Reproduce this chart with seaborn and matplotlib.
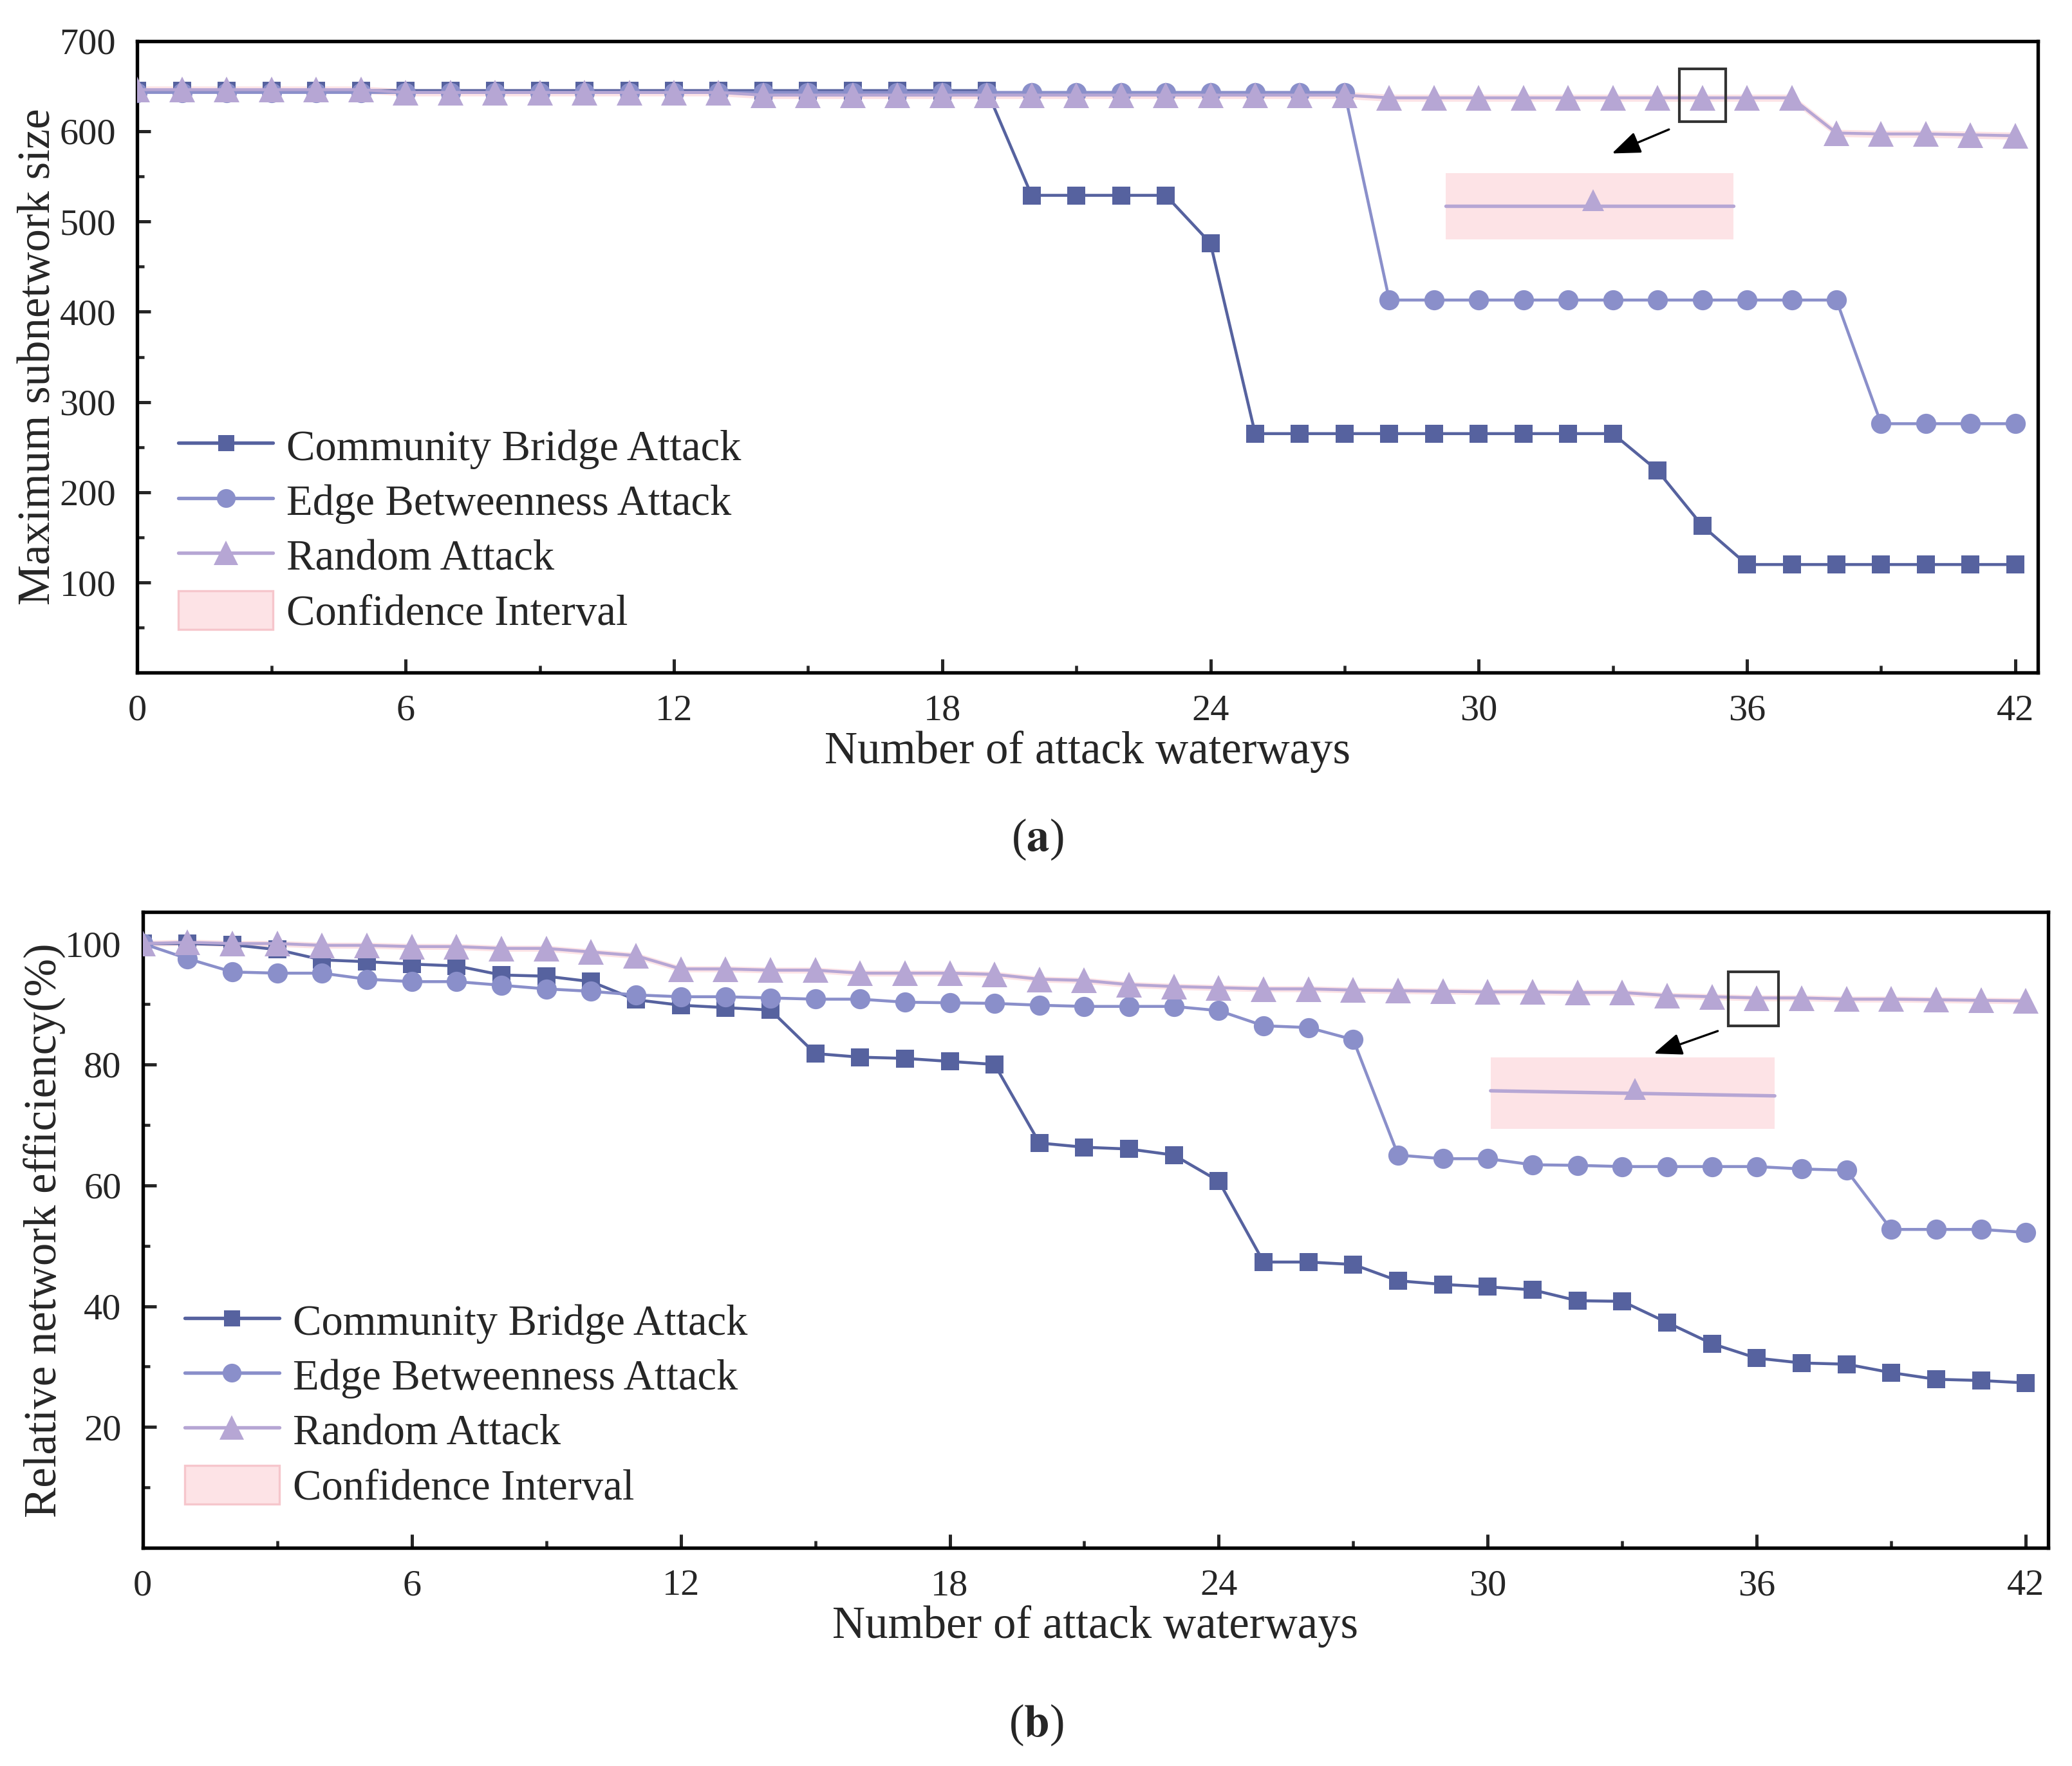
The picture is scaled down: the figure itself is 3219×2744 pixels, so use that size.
import numpy as np
import seaborn as sns
import matplotlib.pyplot as plt
from matplotlib.lines import Line2D
from matplotlib.patches import Patch, Rectangle
from matplotlib.ticker import MultipleLocator

#######   data   #################################

attacks = list(range(0, 43))
series_names = ["Community Bridge Attack", "Edge Betweenness Attack", "Random Attack"]

# (a) maximum subnetwork size
bridge_size = [645] * 20 + [529, 529, 529, 529, 476, 265, 265, 265, 265, 265, 265, 265,
                            265, 265, 224, 163, 120, 120, 120, 120, 120, 120, 120]
betw_size = [643] * 28 + [413] * 11 + [276, 276, 276, 276]
random_size = [646] * 6 + [643] * 8 + [640] * 14 + [637] * 10 + [598, 597, 597, 596, 595]
ci_half_size = 4

# (b) relative network efficiency (%)
bridge_eff = [100, 100, 99.8, 99.0, 97.3, 97.0, 96.6, 96.3, 94.8, 94.6, 93.7, 90.7, 89.8,
              89.4, 89.0, 81.8, 81.2, 81.0, 80.5, 80.0, 67.0, 66.3, 66.0, 65.0, 60.7, 47.3,
              47.3, 46.9, 44.2, 43.6, 43.2, 42.7, 40.9, 40.8, 37.3, 33.8, 31.4, 30.6, 30.4,
              29.0, 27.9, 27.7, 27.3]
betw_eff = [100, 97.5, 95.3, 95.1, 95.1, 94.1, 93.7, 93.7, 93.1, 92.5, 92.1, 91.5, 91.2,
            91.2, 91.0, 90.8, 90.8, 90.3, 90.2, 90.1, 89.8, 89.6, 89.6, 89.6, 88.9, 86.4,
            86.1, 84.1, 65.0, 64.4, 64.4, 63.4, 63.3, 63.1, 63.1, 63.1, 63.1, 62.7, 62.5,
            52.7, 52.7, 52.7, 52.2]
random_eff = [100, 100.2, 100, 100, 99.7, 99.7, 99.5, 99.5, 99.2, 99.2, 98.6, 98.0, 95.8,
              95.8, 95.6, 95.6, 95.1, 95.1, 95.1, 94.9, 94.1, 93.9, 93.2, 92.9, 92.7, 92.5,
              92.5, 92.3, 92.2, 92.1, 92.0, 92.0, 91.9, 91.9, 91.4, 91.2, 91.0, 91.0, 90.8,
              90.8, 90.7, 90.6, 90.5]
ci_half_eff = 0.5

colors = ["#56629f", "#8a8fca", "#b6a6d4"]
markers = ["s", "o", "^"]
msizes = [6.5, 7.5, 9.5]
ci_color = "#fde3e6"
ci_edge = "#f6c6cc"

#######   style   #############
sns.set_style("ticks")
plt.rcParams["font.family"] = ["Liberation Serif", "DejaVu Serif"]
plt.rcParams["mathtext.fontset"] = "stix"
plt.rcParams["axes.linewidth"] = 1.3
plt.rcParams["xtick.direction"] = "in"
plt.rcParams["ytick.direction"] = "in"

fig = plt.figure(figsize=(3219 / 300, 2744 / 300), dpi=300)
ax_a = fig.add_axes([0.0663, 0.619, 0.9171, 0.3578])
ax_b = fig.add_axes([0.0689, 0.1235, 0.9196, 0.3600])


def draw_panel(ax, ys, ci_half):
    x = np.array(attacks)
    rnd = np.array(ys[2])
    ax.fill_between(x, rnd - ci_half, rnd + ci_half, color=ci_color, lw=0, zorder=1)
    for i, y in enumerate(ys):
        sns.lineplot(x=x, y=y, ax=ax, color=colors[i], marker=markers[i],
                     markersize=msizes[i], markeredgewidth=0, linewidth=1.1,
                     zorder=3 + i)
    ax.set_xlim(0, 42.5)
    ax.xaxis.set_major_locator(MultipleLocator(6))
    ax.xaxis.set_minor_locator(MultipleLocator(3))
    ax.tick_params(which="major", length=5, width=1.2, labelsize=14, top=False, right=False)
    ax.tick_params(which="minor", length=2.6, width=1.1, top=False, right=False)
    ax.tick_params(axis="x", which="major", pad=8)
    ax.tick_params(axis="y", which="major", pad=8)
    for s in ax.spines.values():
        s.set_visible(True)
        s.set_color("black")
    ax.set_xlabel("Number of attack waterways", fontsize=17, labelpad=1)


def draw_inset(ax, box, arrow, rect, line_y, tri):
    ax.add_patch(Rectangle((box[0], box[1]), box[2] - box[0], box[3] - box[1],
                           transform=ax.transAxes, fill=False, ec="#333333", lw=1.0, zorder=6))
    ax.annotate("", xy=arrow[1], xytext=arrow[0], xycoords="axes fraction",
                arrowprops=dict(arrowstyle="-|>,head_length=0.9,head_width=0.35",
                                color="black", lw=0.8, shrinkA=0, shrinkB=0), zorder=6)
    ax.add_patch(Rectangle((rect[0], rect[1]), rect[2] - rect[0], rect[3] - rect[1],
                           transform=ax.transAxes, fc=ci_color, ec="none", zorder=5))
    ax.plot([rect[0], rect[2]], line_y, transform=ax.transAxes, color=colors[2], lw=1.3, zorder=6)
    ax.plot([tri[0]], [tri[1]], transform=ax.transAxes, marker="^", ms=8,
            color=colors[2], mew=0, zorder=7)


def legend(ax, loc):
    handles = [Line2D([], [], color=colors[i], marker=markers[i], markersize=msizes[i] - 0.5,
                      markeredgewidth=0, lw=1.3) for i in range(3)]
    handles.append(Patch(fc=ci_color, ec=ci_edge, lw=0.8))
    ax.legend(handles, series_names + ["Confidence Interval"], loc="lower left",
              bbox_to_anchor=loc, frameon=False, fontsize=16, handlelength=2.2,
              handleheight=1.0, labelspacing=0.28, handletextpad=0.32, borderaxespad=0,
              borderpad=0)


# (a)
draw_panel(ax_a, [bridge_size, betw_size, random_size], ci_half_size)
ax_a.set_ylim(0, 700)
ax_a.yaxis.set_major_locator(MultipleLocator(100))
ax_a.yaxis.set_minor_locator(MultipleLocator(50))
ax_a.set_yticks(range(100, 701, 100))
ax_a.set_ylabel("Maximum subnetwork size", fontsize=17)
ax_a.yaxis.set_label_coords(-0.041, 0.5)
draw_inset(ax_a, (0.8115, 0.872, 0.836, 0.956), ((0.806, 0.860), (0.776, 0.822)),
           (0.6885, 0.686, 0.840, 0.791), (0.7385, 0.7385), (0.766, 0.748))
legend(ax_a, (0.0216, 0.062))

# (b)
draw_panel(ax_b, [bridge_eff, betw_eff, random_eff], ci_half_eff)
ax_b.set_ylim(0, 105.2)
ax_b.yaxis.set_major_locator(MultipleLocator(20))
ax_b.yaxis.set_minor_locator(MultipleLocator(10))
ax_b.set_yticks(range(20, 101, 20))
ax_b.set_ylabel("Relative network efficiency(%)", fontsize=17)
ax_b.yaxis.set_label_coords(-0.040, 0.5)
draw_inset(ax_b, (0.832, 0.821, 0.8585, 0.9064), ((0.8266, 0.813), (0.793, 0.7775)),
           (0.7074, 0.659, 0.8565, 0.7713), (0.719, 0.711), (0.783, 0.722))
legend(ax_b, (0.022, 0.062))

fig.text(0.5006, 0.5247, r"($\mathbf{a}$)", ha="center", va="center", fontsize=17)
fig.text(0.5, 0.0232, r"($\mathbf{b}$)", ha="center", va="center", fontsize=17)

fig.savefig("out.png", dpi=300, facecolor="white")
